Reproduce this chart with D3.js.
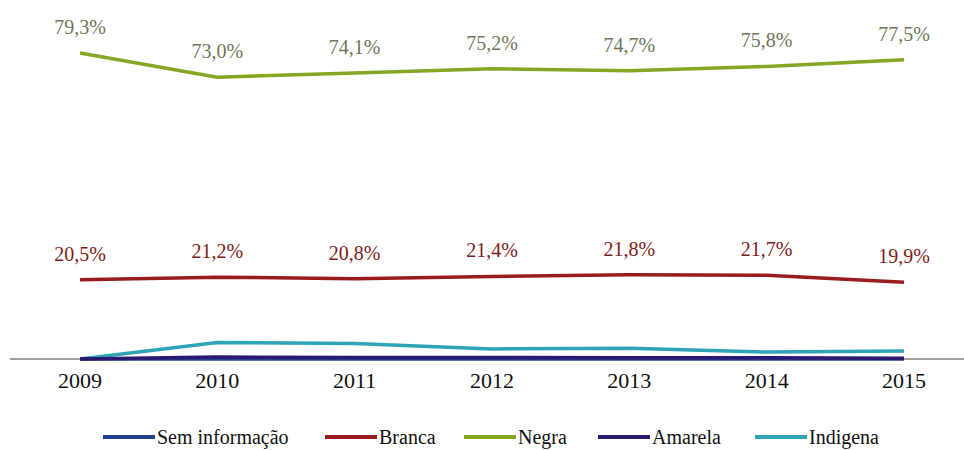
<!DOCTYPE html>
<html lang="pt">
  <head>
    <meta charset="utf-8">
    <title>Cor/raça</title>
    <script src="https://d3js.org/d3.v7.min.js"></script>
    <style>
      body { margin: 0; background: white; }
    </style>
  </head>
  <body>
    <script>
    const w = 964;
    const h = 450;
    const serif = "'Liberation Serif', 'Times New Roman', Times, 'DejaVu Serif', serif";

    // data
    const years = ["2009", "2010", "2011", "2012", "2013", "2014", "2015"];
    const semInfo = [0, 0, 0, 0, 0, 0, 0];
    const branca = [20.5, 21.2, 20.8, 21.4, 21.8, 21.7, 19.9];
    const negra = [79.3, 73.0, 74.1, 75.2, 74.7, 75.8, 77.5];
    const amarela = [0, 0.5, 0.4, 0.4, 0.3, 0.3, 0.2];
    const indigena = [0, 4.3, 4.0, 2.6, 2.8, 1.8, 2.1];

    const series = [
      {name: "Sem informação", values: semInfo, color: "#23408e"},
      {name: "Branca", values: branca, color: "#9a1b1e", label: "#7d1c1c"},
      {name: "Negra", values: negra, color: "#86a723", label: "#6f7659"},
      {name: "Amarela", values: amarela, color: "#2b1870"},
      {name: "Indigena", values: indigena, color: "#2ea4b6"}
    ];
    const drawOrder = ["Negra", "Branca", "Indigena", "Sem informação", "Amarela"];

    const svg = d3.select("body")
      .append("svg")
      .attr("width", w)
      .attr("height", h)
      .style("font-family", serif);

    const x = d3.scalePoint()
      .domain(years)
      .range([80, 904]);

    const y = d3.scaleLinear()
      .domain([0, 100])
      .range([359, -27]);

    const fmt = v => v.toFixed(1).replace(".", ",") + "%";

    // baseline axis
    svg.append("line")
      .attr("x1", 10).attr("x2", w)
      .attr("y1", y(0)).attr("y2", y(0))
      .attr("stroke", "#444")
      .attr("stroke-width", 1.2);

    svg.selectAll(".tick")
      .data(years)
      .enter()
      .append("text")
      .attr("class", "tick")
      .attr("x", d => x(d))
      .attr("y", 388)
      .attr("text-anchor", "middle")
      .attr("font-family", serif)
      .attr("font-size", 22)
      .attr("fill", "#111")
      .text(d => d);

    const line = d3.line()
      .x((d, i) => x(years[i]))
      .y(d => y(d));

    drawOrder.forEach(function (nm) {
      const s = series.find(d => d.name === nm);
      svg.append("path")
        .attr("d", line(s.values))
        .attr("fill", "none")
        .attr("stroke", s.color)
        .attr("stroke-width", 3.5)
        .attr("stroke-linejoin", "round");

      if (s.label) {
        svg.selectAll(null)
          .data(s.values)
          .enter()
          .append("text")
          .attr("x", (d, i) => x(years[i]))
          .attr("y", d => y(d) - 19)
          .attr("text-anchor", "middle")
          .attr("font-family", serif)
          .attr("font-size", 20)
          .attr("fill", s.label)
          .text(d => fmt(d));
      }
    });

    // legend
    const legX = [103, 325, 464, 598, 755];
    const leg = svg.selectAll(".leg")
      .data(series)
      .enter()
      .append("g")
      .attr("class", "leg")
      .attr("transform", (d, i) => `translate(${legX[i]},437)`);

    leg.append("line")
      .attr("x1", 0).attr("x2", 52)
      .attr("stroke", d => d.color)
      .attr("stroke-width", 4);

    leg.append("text")
      .attr("x", 54)
      .attr("y", 7)
      .attr("font-family", serif)
      .attr("font-size", 20)
      .attr("fill", "#111")
      .text(d => d.name);
    </script>
  </body>
</html>
